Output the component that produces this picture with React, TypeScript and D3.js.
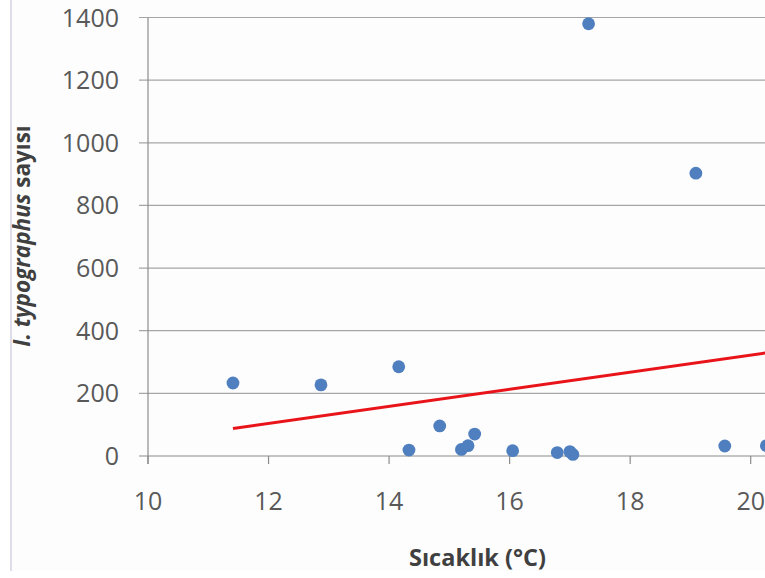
import React, { useEffect, useRef } from 'react';
import * as d3 from 'd3';

// Sıcaklık (°C) vs I. typographus sayısı
const temps = [11.41, 12.87, 14.16, 14.33, 14.84, 15.2, 15.31, 15.42, 16.05, 16.79, 17.0, 17.05, 17.31, 19.09, 19.57, 20.26];
const counts = [233, 227, 285, 19, 96, 21, 33, 70, 17, 11, 14, 5, 1380, 903, 32, 33];

// trend line end points
const trendX = [11.41, 20.4];
const trendY = [88, 333];

const xTicks = [10, 12, 14, 16, 18, 20];
const yTicks = [0, 200, 400, 600, 800, 1000, 1200, 1400];

export default function App() {
  const svgRef = useRef<SVGSVGElement>(null);

  useEffect(() => {
    if (!svgRef.current) return;
    const svg = d3.select(svgRef.current);
    svg.selectAll('*').remove();

    const W = 765;
    const H = 578;

    const x = d3.scaleLinear().domain([10, 20]).range([148, 750.7]);
    const y = d3.scaleLinear().domain([0, 1400]).range([456, 17.5]);

    svg.append('rect').attr('width', W).attr('height', H).attr('fill', '#ffffff');
    svg.append('rect').attr('x', 12).attr('width', W - 12).attr('height', 571).attr('fill', '#fdfdfd');

    // faint page border on the left
    svg
      .append('line')
      .attr('x1', 11)
      .attr('x2', 11)
      .attr('y1', 0)
      .attr('y2', 571)
      .attr('stroke', '#dedeea')
      .attr('stroke-width', 2);

    // gridlines + y ticks
    svg
      .append('g')
      .selectAll('line')
      .data(yTicks)
      .enter()
      .append('line')
      .attr('x1', 139)
      .attr('x2', W)
      .attr('y1', d => y(d))
      .attr('y2', d => y(d))
      .attr('stroke', d => (d === 0 ? '#8c8c8c' : '#a6a6a6'))
      .attr('stroke-width', 1.2);

    // y axis line
    svg
      .append('line')
      .attr('x1', x(10))
      .attr('x2', x(10))
      .attr('y1', y(1400))
      .attr('y2', y(0) + 8)
      .attr('stroke', '#8c8c8c')
      .attr('stroke-width', 1.2);

    // x tick marks
    svg
      .append('g')
      .selectAll('line')
      .data(xTicks)
      .enter()
      .append('line')
      .attr('x1', d => x(d))
      .attr('x2', d => x(d))
      .attr('y1', y(0))
      .attr('y2', y(0) + 8)
      .attr('stroke', '#8c8c8c')
      .attr('stroke-width', 1.2);

    const font = "'Open Sans', 'DejaVu Sans', sans-serif";

    // y tick labels
    svg
      .append('g')
      .selectAll('text')
      .data(yTicks)
      .enter()
      .append('text')
      .attr('x', 119)
      .attr('y', d => y(d))
      .attr('dy', '0.36em')
      .attr('text-anchor', 'end')
      .attr('font-family', font)
      .attr('font-size', 25)
      .attr('fill', '#595959')
      .text(d => String(d));

    // x tick labels
    svg
      .append('g')
      .selectAll('text')
      .data(xTicks)
      .enter()
      .append('text')
      .attr('x', d => x(d))
      .attr('y', 510)
      .attr('text-anchor', 'middle')
      .attr('font-family', font)
      .attr('font-size', 25)
      .attr('fill', '#595959')
      .text(d => String(d));

    // trend line
    const pts = trendX.map((t, i) => [t, trendY[i]] as [number, number]);
    svg
      .append('path')
      .datum(pts)
      .attr('fill', 'none')
      .attr('stroke', '#e8141a')
      .attr('stroke-width', 3)
      .attr('d', d3.line().x(d => x(d[0])).y(d => y(d[1])));

    // points
    svg
      .append('g')
      .selectAll('circle')
      .data(temps.map((t, i) => ({ t, c: counts[i] })))
      .enter()
      .append('circle')
      .attr('cx', d => x(d.t))
      .attr('cy', d => y(d.c))
      .attr('r', 6.4)
      .attr('fill', '#4f7fbf');

    // x title
    svg
      .append('text')
      .attr('x', 409)
      .attr('y', 566)
      .attr('font-family', font)
      .attr('font-weight', 'bold')
      .attr('font-size', 23.5)
      .attr('fill', '#404040')
      .text('Sıcaklık (°C)');

    // y title
    const yt = svg
      .append('text')
      .attr('transform', 'translate(30,236) rotate(-90)')
      .attr('text-anchor', 'middle')
      .attr('font-family', font)
      .attr('font-weight', 'bold')
      .attr('font-size', 22.5)
      .attr('fill', '#404040');
    yt.append('tspan').attr('font-style', 'italic').text('I. typographus');
    yt.append('tspan').text(' sayısı');
  }, []);

  return (
    <div style={{ position: 'absolute', left: 0, top: 0 }}>
      <svg ref={svgRef} width={765} height={578} style={{ display: 'block' }} />
    </div>
  );
}
